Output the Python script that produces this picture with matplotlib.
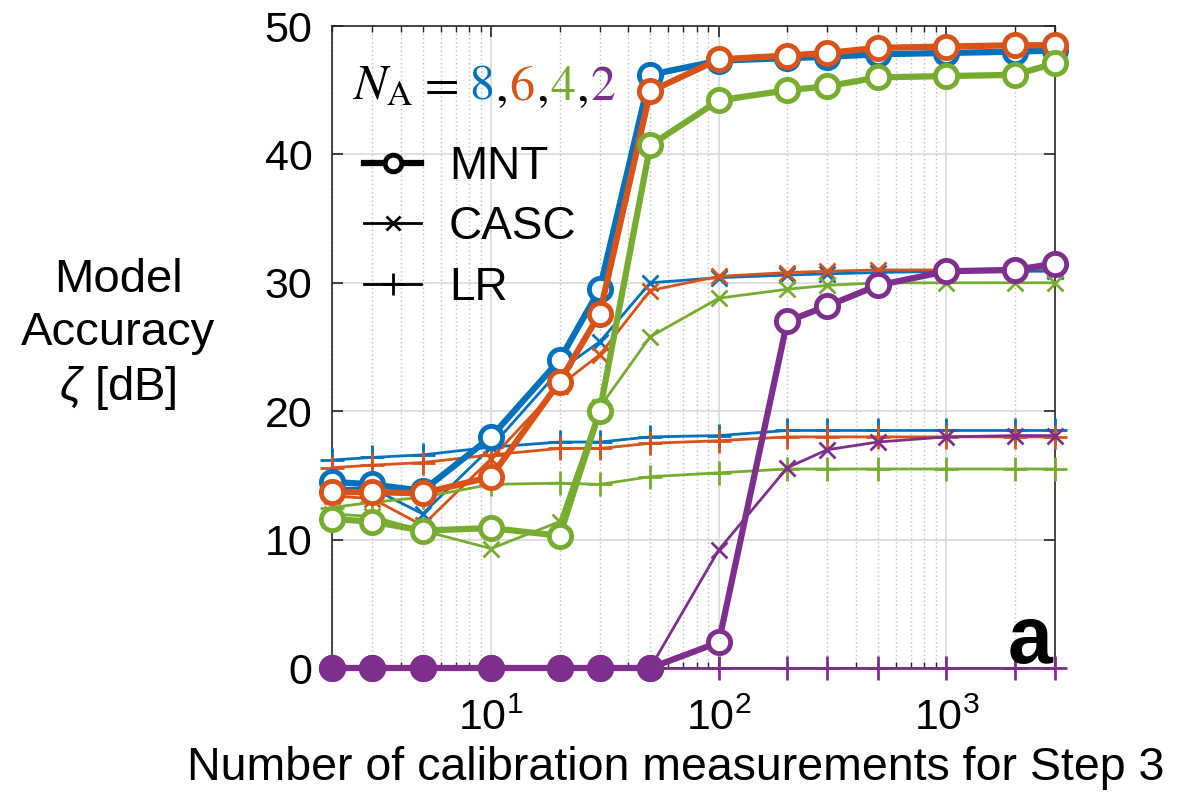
import numpy as np
import matplotlib
matplotlib.use("Agg")
import matplotlib.pyplot as plt
from matplotlib.lines import Line2D
from matplotlib.offsetbox import TextArea, HPacker, AnchoredOffsetbox, DrawingArea
from matplotlib.ticker import LogLocator, NullFormatter

plt.rcParams['font.family'] = ['Liberation Sans', 'DejaVu Sans']
plt.rcParams['mathtext.fontset'] = 'custom'
plt.rcParams['mathtext.rm'] = 'Liberation Sans'
plt.rcParams['mathtext.it'] = 'Liberation Sans:italic'

# ---------------- data ----------------
n_meas = [2, 3, 5, 10, 20, 30, 50, 100, 200, 300, 500, 1000, 2000, 3000]
n_antennas = [8, 6, 4, 2]

mnt_8 = [14.5, 14.3, 13.8, 18.0, 24.0, 29.5, 46.2, 47.3, 47.5, 47.6, 47.8, 47.9, 48.0, 48.1]
mnt_6 = [13.7, 13.7, 13.6, 14.9, 22.3, 27.6, 44.9, 47.4, 47.7, 47.9, 48.3, 48.4, 48.5, 48.5]
mnt_4 = [11.6, 11.4, 10.7, 10.9, 10.3, 20.0, 40.7, 44.2, 45.0, 45.3, 46.0, 46.1, 46.2, 47.1]
mnt_2 = [0, 0, 0, 0, 0, 0, 0, 2.0, 27.0, 28.2, 29.8, 30.9, 31.0, 31.5]

casc_8 = [14.0, 14.0, 12.0, 17.2, 23.2, 25.4, 30.0, 30.4, 30.6, 30.7, 30.8, 30.9, 30.9, 30.9]
casc_6 = [13.4, 13.2, 11.1, 16.3, 22.0, 24.4, 29.4, 30.5, 30.8, 30.9, 31.0, 31.0, 31.1, 31.1]
casc_4 = [12.0, 11.8, 10.7, 9.3, 11.4, 20.3, 25.8, 28.8, 29.5, 29.8, 30.0, 30.0, 30.0, 30.0]
casc_2 = [0, 0, 0, 0, 0, 0, 0, 9.2, 15.6, 17.0, 17.6, 18.0, 18.1, 18.1]

lr_8 = [16.2, 16.4, 16.6, 17.2, 17.6, 17.6, 18.0, 18.1, 18.5, 18.5, 18.5, 18.5, 18.5, 18.5]
lr_6 = [15.6, 15.8, 16.0, 16.6, 17.1, 17.1, 17.5, 17.7, 18.0, 18.0, 18.0, 18.0, 18.0, 18.0]
lr_4 = [12.5, 12.9, 13.3, 14.3, 14.4, 14.3, 14.9, 15.2, 15.5, 15.5, 15.5, 15.5, 15.5, 15.5]
lr_2 = [0, 0, 0, 0, 0, 0, 0, 0, 0, 0, 0, 0, 0, 0]

y_ticks = [0, 10, 20, 30, 40, 50]
colors = ['#0072BD', '#D95319', '#77AC30', '#7E2F8E']

mnt = [mnt_8, mnt_6, mnt_4, mnt_2]
casc = [casc_8, casc_6, casc_4, casc_2]
lr = [lr_8, lr_6, lr_4, lr_2]

# ---------------- figure ----------------
fig = plt.figure(figsize=(11.83, 7.92), dpi=100)
ax = fig.add_axes([332/1183, 1-668/792, (1055-332)/1183, (668-26)/792])

x = np.array(n_meas, dtype=float)
for c, ym, yc, yl in zip(colors, mnt, casc, lr):
    ax.plot(x, yl, '-', color=c, lw=2.0, marker='+', ms=17, mew=2.0, clip_on=False, zorder=3)
    ax.plot(x, yc, '-', color=c, lw=2.0, marker='x', ms=12, mew=2.0, clip_on=False, zorder=3)
    ax.plot(x, ym, '-', color=c, lw=4.5, marker='o', ms=16, mew=3.5, mfc='white',
            clip_on=False, zorder=4)
    ym_arr = np.array(ym)
    zero = ym_arr == 0
    if zero.any():
        ax.plot(x[zero], ym_arr[zero], 'o', color=c, ms=16, mew=3.5, mfc=c,
                clip_on=False, zorder=4)

ax.set_xscale('log')
ax.set_xlim(2, 3000)
ax.set_ylim(0, 50)
ax.set_yticks(y_ticks)
ax.xaxis.set_major_locator(LogLocator(base=10, numticks=10))
ax.xaxis.set_minor_locator(LogLocator(base=10, subs=np.arange(2, 10), numticks=100))
ax.xaxis.set_minor_formatter(NullFormatter())

ax.grid(True, which='major', color='#d9d9d9', lw=1.2, zorder=0)
ax.grid(True, which='minor', axis='x', color='#bdbdbd', lw=1.0, ls=(0, (1, 2)), zorder=0)
ax.set_axisbelow(True)

for s in ax.spines.values():
    s.set_color('#262626')
    s.set_linewidth(1.2)

ax.tick_params(which='both', direction='in', top=True, right=True, color='#262626')
ax.tick_params(which='major', length=8, width=1.2)
ax.tick_params(which='minor', length=4, width=1.0)
ax.tick_params(axis='y', labelsize=31, pad=14)
ax.tick_params(axis='x', labelsize=31, pad=22)

# legend
h_mnt = Line2D([], [], color='black', lw=4.5, marker='o', ms=12, mew=3.5, mfc='white')
h_casc = Line2D([], [], color='black', lw=2.0, marker='x', ms=10, mew=2.0)
h_lr = Line2D([], [], color='black', lw=2.0, marker='+', ms=16, mew=2.0)
leg = ax.legend([h_mnt, h_casc, h_lr], ['MNT', 'CASC', 'LR'], loc='upper left',
                bbox_to_anchor=(0.0, 0.865), frameon=False, fontsize=33,
                handlelength=1.25, handletextpad=0.6, labelspacing=0.36, borderaxespad=0.3)

fs_na = 36
parts = [TextArea(r'$N_{\mathrm{A}}$', textprops=dict(fontsize=fs_na, color='black',
                                                       math_fontfamily='stix'))]
parts.append(DrawingArea(6, 0))
parts.append(TextArea('=', textprops=dict(fontsize=fs_na, color='black', family='STIXGeneral')))
parts.append(DrawingArea(6, 0))
for i, (n, c) in enumerate(zip(n_antennas, colors)):
    parts.append(TextArea(str(n), textprops=dict(fontsize=fs_na, color=c, family='STIXGeneral')))
    if i < len(n_antennas) - 1:
        parts.append(TextArea(',', textprops=dict(fontsize=fs_na, color='black', family='STIXGeneral')))
pack = HPacker(children=parts, align='baseline', pad=0, sep=1)
anch = AnchoredOffsetbox(loc='upper left', child=pack, frameon=False,
                         bbox_to_anchor=(0.02, 0.95), bbox_transform=ax.transAxes, borderpad=0)
ax.add_artist(anch)

ax.text(0.996, 0.008, 'a', transform=ax.transAxes, fontsize=58, fontweight='bold',
        ha='right', va='baseline')

fig.text(118/1183, 1-335/792, 'Model\nAccuracy\n' + r'$\zeta$' + ' [dB]', ha='center', va='center',
         fontsize=34, linespacing=1.25)
fig.text(676/1183, 1-768/792, 'Number of calibration measurements for Step 3', ha='center',
         va='center', fontsize=33.5)

fig.savefig('out.png', dpi=100)
